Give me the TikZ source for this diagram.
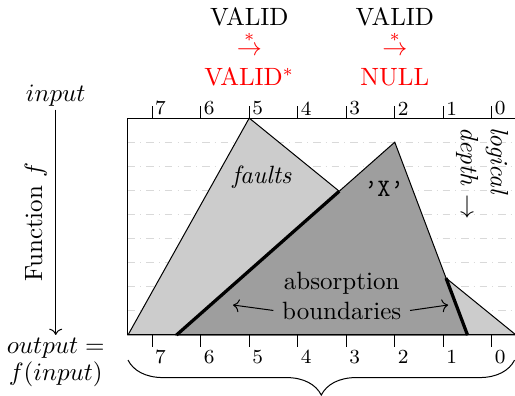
\documentclass[tikz,border=0pt]{standalone}
\usepackage{amsmath,amssymb}
\usepackage{xcolor}
\usepackage{tikz}
\usetikzlibrary{arrows.meta,positioning,decorations.pathreplacing,calc}

\begin{document}
\begin{tikzpicture}[
  x=19.4pt, y=9.64pt,
  tick/.style={font=\footnotesize, inner sep=1pt},
  level/.style={black!15, dash dot, line width=0.4pt},
  faultfill/.style={draw, fill=black!20},
  xfill/.style={draw, fill=black!38},
  bound/.style={line width=1.3pt},
  arr/.style={->},
  lbl/.style={inner sep=1pt},
]
\useasboundingbox (-2.639,-2.531) rectangle (7.979,13.9);
% depth levels
\foreach \y in {1,...,8}
  \draw[level] (0,\y) -- (7.98,\y);
% regions
\coordinate (fl) at (0,0);
\coordinate (ft) at (2.5,9);
\coordinate (fr) at (8,0);
\coordinate (xl) at (1,0);
\coordinate (xt) at (5.5,8);
\coordinate (xr) at (7,0);
\draw[faultfill] (fl) -- (ft) -- (fr) -- cycle;
\draw[xfill] (xl) -- (xt) -- (xr) -- cycle;
\coordinate (bl) at (intersection of xl--xt and ft--fr);
\coordinate (br) at (intersection of xr--xt and ft--fr);
\draw[bound] (xl) -- (bl);
\draw[bound] (xr) -- (br);
% axes
\draw (0,0) -- (0,9) -- (7.98,9);
\draw (0,0) -- (7.98,0);
\foreach \k in {0,...,7} {
  \draw ({7.5-\k},9) -- ++(0,0.5);
  \node[tick, anchor=south west] at ({7.5-\k},9) {\k};
  \draw ({7.5-\k},0) -- ++(0,-0.5);
  \node[tick, anchor=north west] at ({7.5-\k},-0.5) {\k};
}
\draw[decorate, decoration={brace, mirror, amplitude=14pt}] (0,-1.04) -- (7.97,-1.04);
% rewrites
\node (valid) [align=center] at (2.5,11.94)
  {VALID\\ \textcolor{red}{$\stackrel{*}{\to}$}\\ \textcolor{red}{VALID$^*$}};
\node (null) [align=center] at (5.5,11.94)
  {VALID\\ \textcolor{red}{$\stackrel{*}{\to}$}\\ \textcolor{red}{NULL}};
% labels
\node (faults) at (2.763,6.556) {\textit{faults}};
\node (x) at (5.278,6.058) {\texttt{\textquoteright X\textquoteright}};
\node (ab) [align=center] at (4.406,1.64) {absorption\\boundaries};
\coordinate (lb) at (2.165,1.245);
\coordinate (rb) at (6.6,1.245);
\draw[arr] ([yshift=-6pt]ab.west) -- (lb);
\draw[arr] ([yshift=-6pt]ab.east) -- (rb);
\node (depth) [rotate=-90, align=left] at (7.299,6.7) {\textit{logical}\\\textit{depth} $\to$};
% function
\node (in) [lbl] at (-1.49,9.92) {$input$};
\node (out) [lbl, align=center] at (-1.49,-1.14) {$output =$\\[-1pt] $f(input)$};
\draw[arr] (in) -- (out) node[midway, anchor=south, rotate=90] {Function $f$};
\end{tikzpicture}
\end{document}
